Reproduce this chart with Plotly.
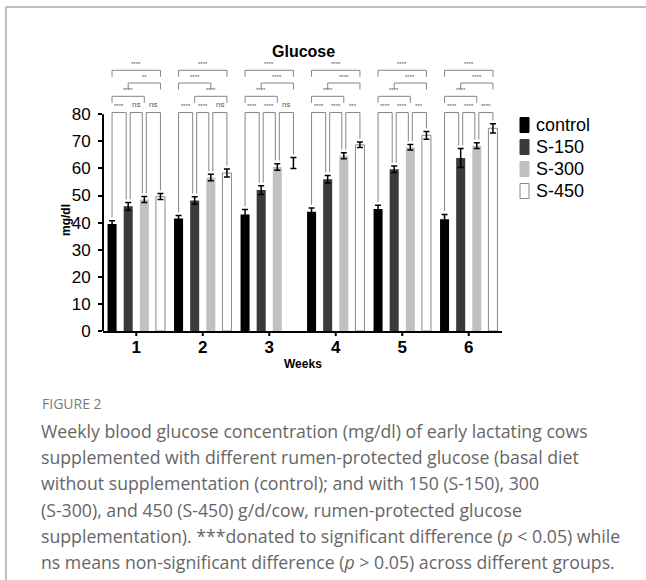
import plotly.graph_objects as go

# ---------------- data ----------------
weeks = ["1", "2", "3", "4", "5", "6"]
groups = ["control", "S-150", "S-300", "S-450"]
control = [39.5, 41.5, 43.0, 44.0, 45.0, 41.2]
s150 = [46.0, 48.2, 52.0, 56.0, 59.7, 63.8]
s300 = [48.5, 56.6, 60.5, 64.7, 67.8, 68.4]
s450 = [49.6, 58.3, 62.0, 68.7, 72.2, 74.8]
control_err = [1.2, 1.1, 1.8, 1.4, 1.4, 1.8]
s150_err = [1.4, 1.3, 1.6, 1.4, 1.2, 3.5]
s300_err = [1.1, 1.2, 1.2, 1.1, 1.0, 1.1]
s450_err = [1.1, 1.5, 2.0, 1.0, 1.4, 1.7]
y_ticks = [0, 10, 20, 30, 40, 50, 60, 70, 80]

# significance labels: adjacent pairs (ctrl-S150, S150-S300, S300-S450)
pair_labels = [
    ["****", "ns", "ns"],
    ["****", "****", "ns"],
    ["****", "****", "ns"],
    ["****", "****", "***"],
    ["****", "****", "***"],
    ["****", "****", "****"],
]
# wider comparisons: (ctrl-S300), (S150-S450), (ctrl-S450)
wide_pairs = [(0, 2), (1, 3), (0, 3)]
wide_labels = [
    ["****", "**", "****"],
    ["****", "****", "****"],
    ["****", "****", "****"],
    ["****", "****", "****"],
    ["****", "****", "****"],
    ["****", "****", "****"],
]
# bracket level (1 = lowest of the wide brackets) for each wide comparison
wide_levels = [
    [1, 2, 3],
    [2, 1, 3],
    [1, 2, 3],
    [1, 2, 3],
    [1, 2, 3],
    [1, 2, 3],
]

values = [control, s150, s300, s450]
errors = [control_err, s150_err, s300_err, s450_err]

# ---------------- styling ----------------
FONT = "Liberation Sans, Arial, sans-serif"
fills = ["#000000", "#3a3a3a", "#c0c0c0", "#ffffff"]
outlines = ["#000000", "#3a3a3a", "#c0c0c0", "#8a8a8a"]
L, R, T, B = 103, 144, 60, 249
W, H = 646, 580
PW, PH = W - L - R, H - T - B
YMAX = 100
BARGAP = 0.03
SLOT = (1 - BARGAP) / 4


def px2x(px):
    return (px - L) / PW


def py2y(py):
    return (H - B - py) / PH


fig = go.Figure()
for k, g in enumerate(groups):
    line_colors = [outlines[k]] * len(weeks)
    if k == 3:
        line_colors[2] = "rgba(0,0,0,0)"
    fig.add_trace(go.Bar(
        name=g, x=weeks, y=values[k], showlegend=False,
        marker=dict(color=fills[k], line=dict(color=line_colors, width=1 if k == 3 else 0)),
        error_y=dict(type="data", array=errors[k], color="#000000", thickness=1.5, width=3),
    ))

shapes = []
annotations = []
BR_COL = "#858585"


def pos(i, k):
    return i + (k - 1.5) * SLOT


def seg(x0, y0, x1, y1):
    shapes.append(dict(type="line", xref="x", yref="y", x0=x0, y0=y0, x1=x1, y1=y1,
                       line=dict(color=BR_COL, width=1)))


PAIR_Y = 80.6
LEVEL_Y = {1: 86.6, 2: 91.5, 3: 96.2}
LEG = 2.4
OFF = 0.03
for i in range(len(weeks)):
    tops = [values[k][i] + errors[k][i] + 1.2 for k in range(4)]
    for k in range(3):
        xa = pos(i, k) + (OFF if k > 0 else 0)
        xb = pos(i, k + 1) - (OFF if k + 1 < 3 else 0)
        seg(xa, PAIR_Y, xb, PAIR_Y)
        seg(xa, PAIR_Y, xa, tops[k])
        seg(xb, PAIR_Y, xb, tops[k + 1])
        lab = pair_labels[i][k]
        annotations.append(dict(x=(xa + xb) / 2, y=PAIR_Y + 0.6, xref="x", yref="y",
                                text=lab, showarrow=False, xanchor="center", yanchor="bottom",
                                font=dict(family=FONT, size=8 if lab == "ns" else 6, color="#555555")))
    for j, (a, b) in enumerate(wide_pairs):
        yl = LEVEL_Y[wide_levels[i][j]]
        xa, xb = pos(i, a), pos(i, b)
        seg(xa, yl, xb, yl)
        seg(xa, yl, xa, yl - LEG)
        seg(xb, yl, xb, yl - LEG)
        annotations.append(dict(x=(xa + xb) / 2, y=yl + 0.4, xref="x", yref="y",
                                text=wide_labels[i][j], showarrow=False, xanchor="center", yanchor="bottom",
                                font=dict(family=FONT, size=6, color="#555555")))

# y axis line only from 0 to 80
shapes.append(dict(type="line", xref="paper", yref="y", x0=0, x1=0, y0=0, y1=80,
                   line=dict(color="#000000", width=2)))
# x tick marks at the category centres
for i in range(len(weeks)):
    shapes.append(dict(type="line", xref="x", yref="paper", x0=i, x1=i, y0=0, y1=py2y(336),
                       line=dict(color="#000000", width=2)))
# card border
shapes.append(dict(type="line", xref="paper", yref="paper", x0=px2x(6), x1=px2x(650),
                   y0=py2y(7), y1=py2y(7), line=dict(color="#a8a8a8", width=1.5)))
shapes.append(dict(type="line", xref="paper", yref="paper", x0=px2x(6), x1=px2x(6),
                   y0=py2y(7), y1=py2y(585), line=dict(color="#a8a8a8", width=1.5)))

# legend (tall swatches as in the figure)
LEG_X, LEG_Y0, LEG_DY = 520, 125, 22
for k, g in enumerate(groups):
    cy = LEG_Y0 + LEG_DY * k
    shapes.append(dict(type="rect", xref="paper", yref="paper",
                       x0=px2x(LEG_X), x1=px2x(LEG_X + 9), y0=py2y(cy + 7.5), y1=py2y(cy - 7.5),
                       fillcolor=fills[k], line=dict(color=outlines[k], width=1)))
    annotations.append(dict(x=px2x(LEG_X + 14), y=py2y(cy), xref="paper", yref="paper", text=g,
                            xanchor="left", yanchor="middle", showarrow=False,
                            font=dict(family=FONT, size=18, color="#000000")))

annotations.append(dict(x=px2x(303), y=py2y(52), xref="paper", yref="paper", text="<b>Glucose</b>",
                        xanchor="center", yanchor="middle", showarrow=False,
                        font=dict(family=FONT, size=16, color="#000000")))
annotations.append(dict(x=px2x(66), y=py2y(220), xref="paper", yref="paper", text="<b>mg/dl</b>",
                        xanchor="center", yanchor="middle", textangle=-90, showarrow=False,
                        font=dict(family=FONT, size=12, color="#000000")))
annotations.append(dict(x=px2x(303), y=py2y(364), xref="paper", yref="paper", text="<b>Weeks</b>",
                        xanchor="center", yanchor="middle", showarrow=False,
                        font=dict(family=FONT, size=12, color="#000000")))

caption_title = "FIGURE 2"
caption_lines = [
    "Weekly blood glucose concentration (mg/dl) of early lactating cows",
    "supplemented with different rumen-protected glucose (basal diet",
    "without supplementation (control); and with 150 (S-150), 300",
    "(S-300), and 450 (S-450) g/d/cow, rumen-protected glucose",
    "supplementation). ***donated to significant difference (<i>p</i> &lt; 0.05) while",
    "ns means non-significant difference (<i>p</i> &gt; 0.05) across different groups.",
]
CAP_FONT = "Open Sans, Noto Sans, sans-serif"
annotations.append(dict(x=px2x(40), y=py2y(403), xref="paper", yref="paper", text=caption_title,
                        xanchor="left", yanchor="middle", showarrow=False,
                        font=dict(family=CAP_FONT, size=14, color="#7a7a7a")))
for n, line in enumerate(caption_lines):
    annotations.append(dict(x=px2x(39), y=py2y(431 + 26.2 * n), xref="paper", yref="paper", text=line,
                            xanchor="left", yanchor="middle", showarrow=False,
                            font=dict(family=CAP_FONT, size=17.7, color="#666666")))

fig.update_layout(
    width=W, height=H,
    margin=dict(l=L, r=R, t=T, b=B, autoexpand=False),
    paper_bgcolor="white", plot_bgcolor="white",
    barmode="group", bargap=BARGAP, bargroupgap=0.44,
    showlegend=False,
    shapes=shapes, annotations=annotations,
    font=dict(family=FONT),
)
fig.update_xaxes(type="category", range=[-0.5, 5.5], showline=True, linecolor="#000000", linewidth=2,
                 ticks="", showgrid=False,
                 tickfont=dict(family=FONT, size=17, color="#000000"),
                 tickprefix="<b>", ticksuffix="</b>")
fig.update_yaxes(range=[0, YMAX], tickvals=y_ticks, showline=False, zeroline=False, showgrid=False,
                 ticks="outside", ticklen=4, tickwidth=1.5, tickcolor="#000000", ticklabelstandoff=4,
                 tickfont=dict(family=FONT, size=17, color="#000000"),
                 tickprefix="<b>", ticksuffix="</b>")

fig.write_html("out.html", config={"displayModeBar": False},
               post_script="document.body.style.margin='0';document.body.style.overflow='hidden';")
